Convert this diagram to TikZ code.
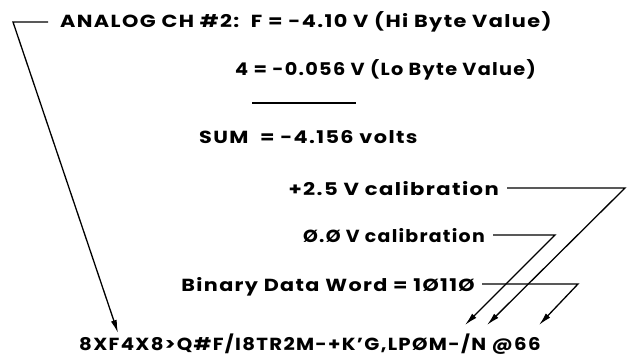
\documentclass[tikz,border=0pt]{standalone}
\usepackage{fontspec}
\usepackage{graphicx}
\setmainfont{Poppins}[FakeStretch=1.15,LetterSpace=7.6]
\usetikzlibrary{arrows.meta}
\newcommand{\hsq}[2]{\scalebox{#1}[1]{#2}}
\begin{document}
\begin{tikzpicture}[x=1pt,y=-1pt,
  txt/.style={inner sep=0pt,font=\fontsize{17.5}{20}\selectfont\bfseries},
  conn/.style={line width=1.3pt,line join=miter},
  arr/.style={conn,-{Latex[length=13pt,width=6pt]}}]
\useasboundingbox (0,0) rectangle (633,357);
\node[txt,anchor=base west] (l1) at (60,27) {\hsq{1.036}{ANALOG CH \#2:\ \ F = -4.10 V (Hi Byte Value)}};
\node[txt,anchor=base west] (l2) at (235,75) {\hsq{0.958}{4 = -0.056 V (Lo Byte Value)}};
\coordinate (u1) at (252,103);
\coordinate (u2) at (356,103);
\draw[conn] (u1) -- (u2);
\node[txt,anchor=base west] (sum) at (199,143) {\hsq{1.033}{SUM\ \ = -4.156 volts}};
\node[txt,anchor=base east] (c25) at (499,195) {\hsq{1.05}{+2.5 V calibration}};
\node[txt,anchor=base east] (c00) at (485,242) {\hsq{0.94}{Ø.Ø V calibration}};
\node[txt,anchor=base east] (bin) at (475,291) {\hsq{1.03}{Binary Data Word = 1Ø11Ø}};
\node[txt,anchor=base west] (bot) at (79,350) {\hsq{0.98}{8XF4X8>Q\#F/I8TR2M-+K\char"27 G,LPØM-/N @66}};
% corners and tips
\coordinate (k0) at (13,22);
\coordinate (t0) at (118,333);
\coordinate (k1) at (625,188);
\coordinate (t1) at (487,325);
\coordinate (k2) at (555,235);
\coordinate (t2) at (465,325);
\coordinate (k3) at (578,284);
\coordinate (t3) at (539,325);
\draw[arr] ([xshift=-12pt,yshift=5pt]l1.base west) -- (k0) -- (t0);
\draw[arr] ([xshift=8pt,yshift=7pt]c25.base east) -- (k1) -- (t1);
\draw[arr] ([xshift=8pt,yshift=7pt]c00.base east) -- (k2) -- (t2);
\draw[arr] ([xshift=7pt,yshift=7pt]bin.base east) -- (k3) -- (t3);
\end{tikzpicture}
\end{document}
